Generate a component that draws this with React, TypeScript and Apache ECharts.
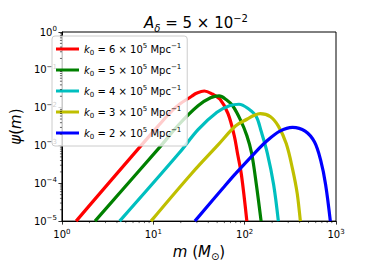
import React, { useEffect, useRef } from "react";
import * as echarts from "echarts";

const FONT = "DejaVu Sans";

// Mass m (M_sun) and psi(m), one pair of arrays per curve
const mRed = [1.43, 11.27, 17.78, 26.3, 29.65, 36.22, 44.16, 53.83, 65.77, 76.91, 83.37, 92.26, 105.7];
const psiRed = [1e-5, 3.24e-3, 1.05e-2, 2.0e-2, 2.4e-2, 2.75e-2, 2.29e-2, 1.66e-2, 6.92e-3, 1.82e-3, 6.31e-4, 1.66e-4, 1e-5];

const mGreen = [2.3, 11.91, 19.19, 30.9, 42.36, 52.5, 63.1, 73.96, 90.16, 105.7, 119.1, 134.3, 151.4];
const psiGreen = [1e-5, 9.33e-4, 3.63e-3, 1.12e-2, 1.82e-2, 2.04e-2, 1.62e-2, 1.12e-2, 4.68e-3, 1.82e-3, 6.31e-4, 9.33e-5, 1e-5];

const mCyan = [4.28, 19.19, 30.9, 49.77, 68.23, 86.7, 109.9, 134.3, 151.4, 177.0, 207.5, 233.9];
const psiCyan = [1e-5, 6.31e-4, 2.63e-3, 7.59e-3, 1.12e-2, 1.23e-2, 9.33e-3, 5.75e-3, 2.4e-3, 6.31e-4, 9.33e-5, 1e-5];

const mYellow = [9.44, 26.3, 51.76, 79.98, 107.2, 125.9, 147.9, 191.9, 233.9, 285.1, 334.2, 376.7, 407.4];
const psiYellow = [1e-5, 1.82e-4, 1.07e-3, 3.31e-3, 5.01e-3, 6.17e-3, 6.92e-3, 5.75e-3, 3.24e-3, 1.12e-3, 2.4e-4, 5.25e-5, 1e-5];

const mBlue = [28.51, 58.34, 79.98, 128.8, 177.0, 243.2, 334.2, 459.2, 582.1, 682.3, 769.1, 867.0];
const psiBlue = [1e-5, 7.59e-5, 1.82e-4, 6.31e-4, 1.35e-3, 2.4e-3, 3.02e-3, 2.4e-3, 1.23e-3, 3.89e-4, 9.33e-5, 1e-5];

const k0Coefs = ["6", "5", "4", "3", "2"];
const seriesNames = k0Coefs.map((c) => `k0 = ${c} × 10^5 Mpc^-1`);
const colors = ["#ff0000", "#008000", "#00bfbf", "#bfbf00", "#0000ff"];

const X_MIN = 1;
const X_MAX = 1000;
const Y_MIN = 1e-5;
const Y_MAX = 1;

const minorMultipliers = [2, 3, 4, 5, 6, 7, 8, 9];
const xDecades = [1, 10, 100];
const yDecades = [1e-5, 1e-4, 1e-3, 1e-2, 1e-1];

export default function App() {
  const ref = useRef<HTMLDivElement>(null);

  useEffect(() => {
    const chart = echarts.init(ref.current!, null, { renderer: "svg" });

    const curveData = [
      [mRed, psiRed],
      [mGreen, psiGreen],
      [mCyan, psiCyan],
      [mYellow, psiYellow],
      [mBlue, psiBlue],
    ];

    const minorX: number[] = [];
    xDecades.forEach((d) => minorMultipliers.forEach((k) => minorX.push(d * k)));
    const minorY: number[] = [];
    yDecades.forEach((d) => minorMultipliers.forEach((k) => minorY.push(d * k)));

    const expOf = (v: number) => {
      const e = Math.round(Math.log10(v));
      return e < 0 ? "\u2212" + String(-e) : String(e);
    };

    const tickRich = {
      b: { fontFamily: FONT, fontSize: 10, lineHeight: 13, color: "#000" },
      s: { fontFamily: FONT, fontSize: 7, lineHeight: 7, verticalAlign: "top", color: "#000" },
    };

    const lineSeries = curveData.map(([ms, ps], i) => ({
      type: "line",
      name: seriesNames[i],
      data: ms.map((m, j) => [m, ps[j]]),
      symbol: "none",
      showSymbol: false,
      smooth: 0.35,
      lineStyle: { width: 3.2, color: colors[i] },
      itemStyle: { color: colors[i] },
      z: 2,
    }));

    const option: any = {
      animation: false,
      backgroundColor: "#fff",
      title: {
        text: "{i|A}{sub|δ}{n| = 5 × 10}{sup|\u22122}",
        left: 191,
        top: 8,
        textAlign: "center",
        textStyle: {
          fontWeight: "normal",
          rich: {
            n: { fontFamily: FONT, fontSize: 15, lineHeight: 20, fontWeight: "normal", color: "#000" },
            i: { fontFamily: FONT, fontSize: 15, lineHeight: 20, fontWeight: "normal", fontStyle: "italic", color: "#000" },
            sub: { fontFamily: FONT, fontSize: 10, lineHeight: 10, fontWeight: "normal", fontStyle: "italic", verticalAlign: "bottom", color: "#000" },
            sup: { fontFamily: FONT, fontSize: 10, lineHeight: 10, fontWeight: "normal", verticalAlign: "top", color: "#000" },
          },
        },
      },
      grid: {
        left: 46,
        top: 32,
        width: 290,
        height: 200,
        show: true,
        borderColor: "#000",
        borderWidth: 1,
        backgroundColor: "transparent",
        containLabel: false,
      },
      legend: {
        data: seriesNames,
        orient: "vertical",
        left: 52,
        top: 36,
        padding: [6, 6, 6, 4],
        itemGap: 7,
        itemWidth: 23,
        itemHeight: 3,
        icon: "rect",
        backgroundColor: "rgba(255,255,255,0.8)",
        borderColor: "#cccccc",
        borderWidth: 1,
        borderRadius: 3,
        selectedMode: false,
        formatter: (name: string) => {
          const i = seriesNames.indexOf(name);
          return `{i|k}{sub|0}{n| = ${k0Coefs[i]} × 10}{sup|5}{n| Mpc}{sup|\u22121}`;
        },
        textStyle: {
          rich: {
            n: { fontFamily: FONT, fontSize: 10, lineHeight: 14, color: "#000" },
            i: { fontFamily: FONT, fontSize: 10, lineHeight: 14, fontStyle: "italic", color: "#000" },
            sub: { fontFamily: FONT, fontSize: 7, lineHeight: 7, verticalAlign: "bottom", color: "#000" },
            sup: { fontFamily: FONT, fontSize: 7, lineHeight: 7, verticalAlign: "top", color: "#000" },
          },
        },
      },
      xAxis: {
        type: "log",
        logBase: 10,
        min: X_MIN,
        max: X_MAX,
        splitNumber: 3,
        splitLine: { show: false },
        axisLine: { show: true, onZero: false, lineStyle: { color: "#000", width: 1 } },
        axisTick: { show: true, length: 3.5, lineStyle: { color: "#000", width: 0.8 } },
        axisLabel: {
          margin: 7,
          formatter: (v: number) => `{b|10}{s|${expOf(v)}}`,
          rich: tickRich,
        },
        name: "{i|m}{n| (}{i|M}{sub|⊙}{n|)}",
        nameLocation: "middle",
        nameGap: 18,
        nameTextStyle: {
          rich: {
            n: { fontFamily: FONT, fontSize: 15, lineHeight: 18, color: "#000" },
            i: { fontFamily: FONT, fontSize: 15, lineHeight: 18, fontStyle: "italic", color: "#000" },
            sub: { fontFamily: FONT, fontSize: 10, lineHeight: 10, verticalAlign: "bottom", color: "#000" },
          },
        },
      },
      yAxis: {
        type: "log",
        logBase: 10,
        min: Y_MIN,
        max: Y_MAX,
        splitNumber: 5,
        splitLine: { show: false },
        axisLine: { show: true, onZero: false, lineStyle: { color: "#000", width: 1 } },
        axisTick: { show: true, length: 3.5, lineStyle: { color: "#000", width: 0.8 } },
        axisLabel: {
          margin: 5,
          formatter: (v: number) => `{b|10}{s|${expOf(v)}}`,
          rich: tickRich,
        },
        name: "{i|ψ}{n|(}{i|m}{n|)}",
        nameLocation: "middle",
        nameRotate: 90,
        nameGap: 28,
        nameTextStyle: {
          rich: {
            n: { fontFamily: FONT, fontSize: 15, lineHeight: 18, color: "#000" },
            i: { fontFamily: FONT, fontSize: 15, lineHeight: 18, fontStyle: "italic", color: "#000" },
          },
        },
      },
      series: [
        ...lineSeries,
        {
          type: "custom",
          name: "minorX",
          coordinateSystem: "cartesian2d",
          silent: true,
          clip: false,
          z: 5,
          data: minorX.map((v) => [v, Y_MIN]),
          renderItem: (_p: any, api: any) => {
            const p = api.coord([api.value(0), api.value(1)]);
            return {
              type: "line",
              shape: { x1: p[0], y1: p[1], x2: p[0], y2: p[1] + 2 },
              style: { stroke: "#000", lineWidth: 0.6 },
            };
          },
        },
        {
          type: "custom",
          name: "minorY",
          coordinateSystem: "cartesian2d",
          silent: true,
          clip: false,
          z: 5,
          data: minorY.map((v) => [X_MIN, v]),
          renderItem: (_p: any, api: any) => {
            const p = api.coord([api.value(0), api.value(1)]);
            return {
              type: "line",
              shape: { x1: p[0] - 2, y1: p[1], x2: p[0], y2: p[1] },
              style: { stroke: "#000", lineWidth: 0.6 },
            };
          },
        },
      ],
    };

    chart.setOption(option);
    return () => chart.dispose();
  }, []);

  return (
    <div
      ref={ref}
      style={{ position: "fixed", left: 0, top: 0, width: 374, height: 266 }}
    />
  );
}
